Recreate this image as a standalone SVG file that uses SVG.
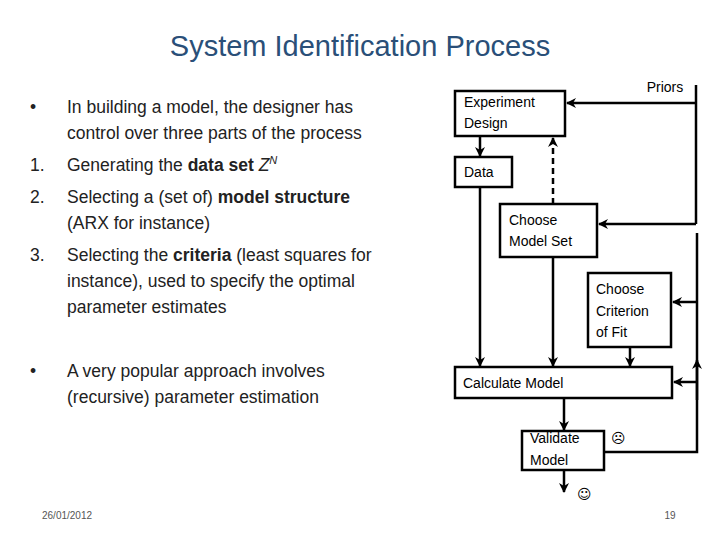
<svg xmlns="http://www.w3.org/2000/svg" width="720" height="540" viewBox="0 0 720 540">
<defs>
<marker id="a" viewBox="0 0 10 10" refX="9" refY="5" markerWidth="4" markerHeight="4" orient="auto"><path d="M0,0 L10,5 L0,10 L3,5 z" fill="#000"/></marker>
<style>
text{font-family:"Liberation Sans",Arial,sans-serif;fill:#000}
.b{font-size:17.5px;fill:#222}
.n{font-size:14px}
.box{fill:#fff;stroke:#000;stroke-width:2.5}
.c{stroke:#000;stroke-width:2.5;fill:none}
</style>
</defs>
<rect width="720" height="540" fill="#fff"/>
<text x="360" y="56" text-anchor="middle" font-size="29" style="fill:#2a4f78">System Identification Process</text>
<g class="b">
<text x="30" y="113" class="b">•</text><text x="67" y="113" class="b">In building a model, the designer has</text>
<text x="67" y="139" class="b">control over three parts of the process</text>
<text x="30" y="171" class="b">1.</text><text x="67" y="171" class="b">Generating the <tspan font-weight="bold">data set</tspan> <tspan font-style="italic">Z</tspan><tspan font-size="11" dy="-7" font-style="italic">N</tspan></text>
<text x="30" y="203" class="b">2.</text><text x="67" y="203" class="b">Selecting a (set of) <tspan font-weight="bold">model structure</tspan></text>
<text x="67" y="229" class="b">(ARX for instance)</text>
<text x="30" y="261" class="b">3.</text><text x="67" y="261" class="b">Selecting the <tspan font-weight="bold">criteria</tspan> (least squares for</text>
<text x="67" y="287" class="b">instance), used to specify the optimal</text>
<text x="67" y="313" class="b">parameter estimates</text>
<text x="30" y="377" class="b">•</text><text x="67" y="377" class="b">A very popular approach involves</text>
<text x="67" y="403" class="b">(recursive) parameter estimation</text>
</g>
<g id="connectors">
<path class="c" d="M696,85 V224"/>
<path class="c" d="M696,103 H567" marker-end="url(#a)"/>
<path class="c" d="M696,224 H599" marker-end="url(#a)"/>
<path class="c" d="M697,233 V452 H604"/>
<path class="c" d="M697,302 H673" marker-end="url(#a)"/>
<path class="c" d="M697,382 H674" marker-end="url(#a)"/>
<path class="c" d="M697,400 V360" marker-end="url(#a)"/>
<path class="c" d="M480,136 V156" marker-end="url(#a)"/>
<path class="c" d="M480,187 V366" marker-end="url(#a)"/>
<path class="c" d="M553,257 V366" marker-end="url(#a)"/>
<path class="c" d="M553,204 V138" stroke-dasharray="6,4" marker-end="url(#a)"/>
<path class="c" d="M630,347 V366" marker-end="url(#a)"/>
<path class="c" d="M564,398 V430" marker-end="url(#a)"/>
<path class="c" d="M564,470 V492" marker-end="url(#a)"/>
</g>
<g id="experiment"><rect class="box" x="455" y="91" width="110" height="45"/><text class="n" x="464" y="107">Experiment</text><text class="n" x="464" y="128">Design</text></g>
<g id="data"><rect class="box" x="455" y="157" width="57" height="30"/><text class="n" x="464" y="177">Data</text></g>
<g id="modelset"><rect class="box" x="500" y="204" width="97" height="53"/><text class="n" x="509" y="225">Choose</text><text class="n" x="509" y="246">Model Set</text></g>
<g id="criterion"><rect class="box" x="588" y="273" width="83" height="74"/><text class="n" x="596" y="294">Choose</text><text class="n" x="596" y="316">Criterion</text><text class="n" x="596" y="337">of Fit</text></g>
<g id="calculate"><rect class="box" x="455" y="367" width="217" height="31"/><text class="n" x="463" y="388">Calculate Model</text></g>
<g id="validate"><rect class="box" x="522" y="431" width="82" height="39"/><text class="n" x="530" y="443">Validate</text><text class="n" x="530" y="465">Model</text></g>
<text class="n" x="665" y="92" text-anchor="middle">Priors</text>
<text x="611" y="443" font-size="14" style='font-family:"DejaVu Sans",sans-serif'>☹</text>
<text x="577" y="499" font-size="14" style='font-family:"DejaVu Sans",sans-serif'>☺</text>
<text x="42" y="519" font-size="10" style="fill:#555">26/01/2012</text>
<text x="670" y="519" font-size="10" text-anchor="middle" style="fill:#555">19</text>
</svg>
